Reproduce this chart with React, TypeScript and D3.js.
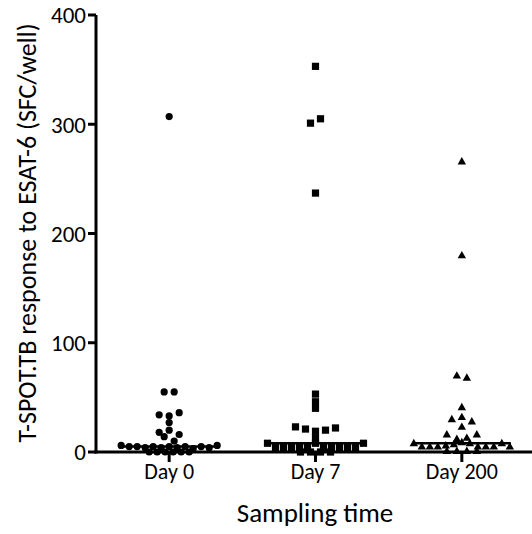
import React from 'react';
import * as d3 from 'd3';

// values (SFC/well), one array per sampling day
const categories = ['Day 0', 'Day 7', 'Day 200'];
const day0 = [307, 55, 55, 34, 33, 36, 27, 18, 20, 16, 14, 10,
  6, 5, 5, 4, 5, 4, 5, 4, 5, 3, 5, 4, 6,
  0, 0, 0, 0, 0, 0];
const day7 = [353, 301, 305, 237, 53, 46, 40, 23, 21, 19, 20, 22, 13,
  8, 4, 4, 4, 4, 4, 8, 4, 4, 4, 4, 4, 8,
  0, 0, 0, 0];
const day200 = [266, 180, 70, 68, 41, 30, 32, 28, 23, 16, 12, 13, 16,
  8, 5, 5, 5, 6, 7, 9, 8, 5, 5, 5, 8, 5,
  1, 1, 1, 1];
const series = [day0, day7, day200];
const yTicks = [0, 100, 200, 300, 400];

const W = 532;
const H = 534;
const FONT = 'Carlito, Calibri, Lato, sans-serif';

const x = d3.scalePoint<string>().domain(categories).range([96, 535]).padding(0.5);
const y = d3.scaleLinear().domain([0, 400]).range([452, 15]);

// prism-like dot layout: points whose symbols would overlap vertically sit side by side
function spread(values: number[], cx: number) {
  const order = values.map((v, i) => i).sort((a, b) => values[b] - values[a]);
  const rows: number[][] = [];
  let start = null as number | null;
  order.forEach(i => {
    if (start === null || y(values[i]) - y(start) > 5) {
      rows.push([]);
      start = values[i];
    }
    rows[rows.length - 1].push(i);
  });
  const pts: { x: number; y: number }[] = [];
  rows.forEach(row => {
    row.sort((a, b) => a - b);
    const step = row.length > 5 ? 8 : 10;
    row.forEach((i, k) => {
      pts.push({ x: cx + (k - (row.length - 1) / 2) * step, y: y(values[i]) });
    });
  });
  return pts;
}

function Marker({ kind, px, py }: { kind: number; px: number; py: number }) {
  if (kind === 0) return <circle cx={px} cy={py} r={3.6} fill="#000" />;
  if (kind === 1) return <rect x={px - 3.6} y={py - 3.6} width={7.2} height={7.2} fill="#000" />;
  return <path d={`M${px},${py - 4.4}L${px + 4.2},${py + 3}L${px - 4.2},${py + 3}Z`} fill="#000" />;
}

export default function App() {
  return (
    <svg width={W} height={H} style={{ position: 'absolute', left: 0, top: 0, background: '#fff' }}>
      {/* y axis */}
      <line x1={96} x2={96} y1={y(400)} y2={y(0) + 1.5} stroke="#000" strokeWidth={3} />
      {yTicks.map(t => (
        <g key={t}>
          <line x1={88} x2={96} y1={y(t)} y2={y(t)} stroke="#000" strokeWidth={3} />
          <text x={86} y={y(t)} dy="0.36em" textAnchor="end" fontFamily={FONT} fontSize={23} fill="#000">{t}</text>
        </g>
      ))}
      {/* x axis */}
      <line x1={94.5} x2={W} y1={y(0)} y2={y(0)} stroke="#000" strokeWidth={3} />
      {categories.map(c => (
        <g key={c}>
          <line x1={x(c)} x2={x(c)} y1={y(0)} y2={y(0) + 10} stroke="#000" strokeWidth={3} />
          <text x={x(c)} y={479} textAnchor="middle" fontFamily={FONT} fontSize={22} fill="#000">{c}</text>
        </g>
      ))}
      {/* points and medians */}
      {series.map((vals, s) => {
        const cx = x(categories[s]) as number;
        const med = d3.median(vals) as number;
        return (
          <g key={s}>
            {spread(vals, cx).map((p, i) => <Marker key={i} kind={s} px={p.x} py={p.y} />)}
            <line x1={cx - 49} x2={cx + 49} y1={y(med)} y2={y(med)} stroke="#000" strokeWidth={2.6} />
          </g>
        );
      })}
      <text x={315} y={522} textAnchor="middle" fontFamily={FONT} fontSize={27} fill="#000">Sampling time</text>
      <text transform={`translate(36,${233}) rotate(-90)`} textAnchor="middle" fontFamily={FONT} fontSize={26} fill="#000">
        T-SPOT.TB response to ESAT-6 (SFC/well)
      </text>
    </svg>
  );
}
